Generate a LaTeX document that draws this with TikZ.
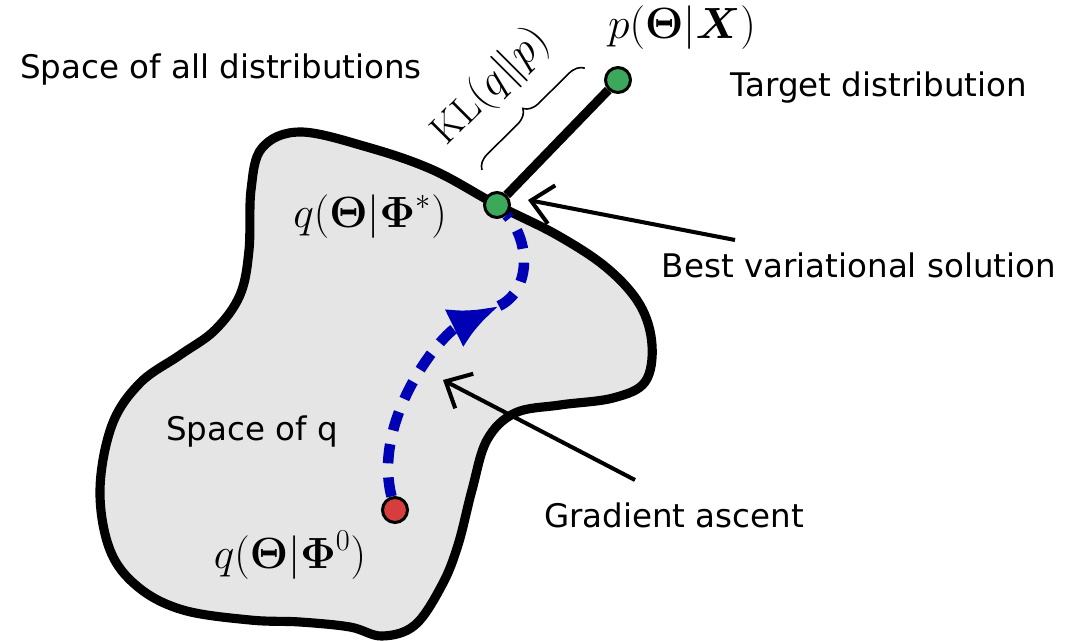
\documentclass[tikz,border=0pt]{standalone}
\usepackage{amsmath}
\usepackage{amssymb}
\usepackage{bm}
\usepackage{xcolor}
\usepackage{fontspec}
\newfontfamily\labelfont{DejaVu Sans}
\usepackage{tikz}
\usetikzlibrary{arrows.meta}
\usetikzlibrary{decorations.pathreplacing}

\definecolor{dotgreen}{RGB}{60,168,90}
\definecolor{dotred}{RGB}{214,62,62}
\definecolor{ascentblue}{RGB}{0,0,180}

\begin{document}
\begin{tikzpicture}[x=0.02cm,y=-0.02cm,
  dot/.style={circle,draw=black,line width=1.7pt,minimum size=0.5cm,inner sep=0pt},
  lbl/.style={font=\labelfont\fontsize{18.5}{22}\selectfont},
  mlbl/.style={font=\fontsize{23}{28}\selectfont},
  pointer/.style={line width=2.3pt,-{Straight Barb[length=4.2mm,width=7.8mm]}},
  ascent/.style={ascentblue,line width=6pt,dash pattern=on 11pt off 8pt}]
\useasboundingbox (0,0) rectangle (1081,641);
% \draw [help lines,color=green] (0,0) grid[step=1cm] (1081,641);
% space of q
\draw [line width=5.2pt, fill=black!10, join=round] plot [smooth cycle, tension=0.6] coordinates {
  (262,148) (300,132) (367,147) (433,170) (497,205) (557,235) (607,268)
  (640,305) (652,345) (645,382) (613,398) (560,405) (515,413) (487,440)
  (472,490) (458,545) (442,585) (415,625) (382,636) (350,627) (300,622)
  (250,620) (183,610) (138,587) (110,550) (100,490) (112,425) (140,383)
  (180,355) (215,330) (240,295) (249,250) (251,190)};
% points
\node [dot, fill=dotgreen] (target) at (618,80) {};
\node [dot, fill=dotgreen] (best) at (497,205) {};
\node [dot, fill=dotred] (start) at (395,510) {};
\draw [line width=5.2pt] (best) -- (target);
% gradient path
\coordinate (turn) at (499,306);
\draw [ascent, -{Latex[length=1cm,width=0.85cm]}] (start) .. controls (372,420) and (440,335) .. (turn);
\draw [ascent] (turn) .. controls (532,290) and (530,240) .. (best);
% KL brace
\coordinate (bracelo) at (482,170);
\coordinate (bracehi) at (585,68);
\draw [line width=0.9pt, decorate, decoration={brace, amplitude=0.3cm}] (bracelo) -- (bracehi);
\node [mlbl, rotate=45] (kl) at (491,87) {$\mathrm{KL}(q\|p)$};
% labels
\node [lbl] (alldist) at (221,70) {Space of all distributions};
\node [lbl] (targetlbl) at (879,88) {Target distribution};
\node [lbl] (bvs) at (859,265) {Best variational solution};
\node [lbl] (gradlbl) at (674,515) {Gradient ascent};
\node [lbl] (spaceq) at (252,432) {Space of q};
\node [mlbl] (qstar) at (370,217) {$q(\boldsymbol{\Theta}|\boldsymbol{\Phi}^{*})$};
\node [mlbl] (qzero) at (290,555) {$q(\boldsymbol{\Theta}|\boldsymbol{\Phi}^{0})$};
\node [mlbl] (plbl) at (682,28) {$p(\boldsymbol{\Theta}|\boldsymbol{X})$};
% pointers
\coordinate (bvstail) at (735,240);
\coordinate (bvstip) at (528,200);
\draw [pointer] (bvstail) -- (bvstip);
\coordinate (gradtail) at (635,480);
\coordinate (gradtip) at (443,380);
\draw [pointer] (gradtail) -- (gradtip);
\end{tikzpicture}
\end{document}
